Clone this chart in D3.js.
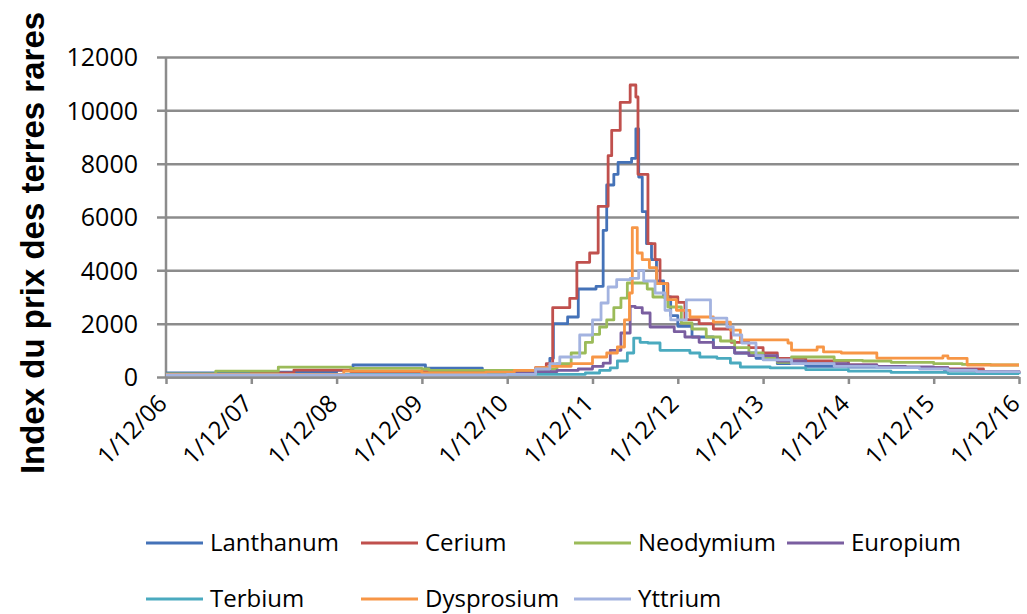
<!DOCTYPE html>
<html>
<head>
<meta charset="utf-8">
<script src="https://cdnjs.cloudflare.com/ajax/libs/d3/7.8.5/d3.min.js"></script>
<style>
  html, body { margin: 0; padding: 0; background: #fff; }
  svg { display: block; }
</style>
</head>
<body>
<svg id="chart" width="1027" height="614"></svg>
<script>
// ---- DATA (month index since 1/12/06, index value) ----
const tickLabels = ["1/12/06","1/12/07","1/12/08","1/12/09","1/12/10","1/12/11","1/12/12","1/12/13","1/12/14","1/12/15","1/12/16"];
const yTicks = [0, 2000, 4000, 6000, 8000, 10000, 12000];
const seriesNames = ["Lanthanum","Cerium","Neodymium","Europium","Terbium","Dysprosium","Yttrium"];

const lanthanum = [[0,150],[7,140],[13,180],[24,250],[26.3,450],[35.7,450],[36.5,330],[43.7,330],[44.5,220],[52,250],[54,700],[54.5,2000],[56.5,2250],[58,3300],[60.5,3400],[61.5,5500],[62,7200],[63,7600],[63.6,8050],[65.5,8200],[66.1,9300],[66.5,7500],[67,6200],[67.6,5000],[68.3,4400],[69,3600],[70,3000],[71,2300],[72,1900],[74,1500],[77,1100],[80,900],[83,700],[86,500],[90,400],[96,370],[102,350],[108,330],[109.5,250],[114,200],[118,150],[120,120]];
const cerium = [[0,100],[12,150],[18,260],[25,260],[26,200],[44,200],[50,220],[52,350],[53.5,500],[54.4,2600],[56.8,2950],[57.8,4300],[59.6,4650],[60.8,6400],[62.2,8300],[62.7,9250],[63.9,10300],[65.3,10950],[66.1,10500],[66.4,7600],[67.8,5000],[68.8,4400],[69.5,3500],[70.6,3000],[72,2800],[73,2150],[75,2000],[77,1800],[79.5,1300],[82,1100],[84,900],[86,700],[90,600],[96,450],[100,400],[104,350],[110,300],[115,200],[120,150]];
const neodymium = [[0,120],[7,220],[15.8,370],[26,320],[36,300],[37,250],[47,250],[53,300],[55,500],[57,900],[59,1300],[60,1600],[61,1875],[62,2140],[63,2600],[64,2960],[64.9,3525],[67.7,3300],[68.5,3000],[70.6,2625],[72.5,2025],[74,1800],[76,1500],[78,1350],[80,1100],[82,900],[84,700],[86,550],[88,750],[92,750],[94,620],[98,600],[102,550],[108,500],[112,470],[116,450],[120,450]];
const europium = [[0,100],[48,150],[52,200],[55,250],[58,300],[60,400],[61.5,520],[62.5,1000],[64,1650],[65.3,2650],[66,2600],[67,2400],[68.1,1875],[70.6,1875],[71.5,1700],[73,1500],[75,1300],[77,1100],[80,900],[82,800],[86,600],[90,500],[96,450],[100,400],[104,380],[108,350],[110,280],[114,200],[120,150]];
const terbium = [[0,100],[56,100],[59,150],[61,250],[62.5,340],[63.5,600],[64.9,900],[65.8,1460],[66.7,1300],[67.8,1275],[69.5,1000],[73.7,900],[75.1,750],[77.5,700],[79.4,525],[80.8,375],[85,340],[90,280],[96,220],[102,170],[110,130],[120,100]];
const dysprosium = [[0,100],[24,100],[25,220],[35.5,220],[36,150],[45,180],[49,250],[52,350],[54,400],[57,500],[60,750],[62,900],[63.5,1125],[64.5,2140],[65.2,3150],[65.6,5600],[66.3,4650],[67,4400],[68,4100],[69,3500],[70.5,2900],[71.8,2500],[73.7,2250],[77,2060],[79.4,1760],[80.8,1390],[87.5,1275],[88,1010],[91.6,1125],[92.5,940],[95,900],[100,710],[109.3,790],[110,700],[112.7,450],[120,450]];
const yttrium = [[0,80],[48,100],[52,300],[54,500],[55.4,750],[58.2,1575],[60,2140],[61.2,2775],[62.2,3375],[63.4,3650],[65.3,3700],[66.5,4000],[67.2,3600],[68.8,3150],[70.2,2500],[71,2140],[73.2,2890],[76.6,2210],[78.9,1875],[79.8,1575],[81,1275],[83,800],[84,640],[88,500],[94,400],[100,350],[106,300],[110,250],[114,200],[120,150]];

const seriesData = [lanthanum, cerium, neodymium, europium, terbium, dysprosium, yttrium];
const seriesColors = ["#4472b8","#c0504d","#9bbb59","#7a5ea0","#4aaabf","#f79646","#a3b3e0"];

// ---- LAYOUT ----
const svg = d3.select("#chart");
const x = d3.scaleLinear().domain([0, 120]).range([166, 1019]);
const y = d3.scaleLinear().domain([0, 12000]).range([377, 57]);
const font = "'Open Sans', sans-serif";
const gridColor = "#8c8c8c";

// gridlines + y labels
const yAxis = d3.axisLeft(y).tickValues(yTicks).tickFormat(d3.format("d"))
  .tickSize(-(x.range()[1] - x.range()[0])).tickSizeOuter(0).tickPadding(28);
const gy = svg.append("g").attr("transform", `translate(${x.range()[0]},0)`).call(yAxis);
gy.select(".domain").remove();
gy.selectAll(".tick line").attr("stroke", gridColor).attr("stroke-width", 2.5).attr("x1", -9);
gy.selectAll(".tick text").attr("font-family", font).attr("font-size", 25).attr("fill", "#000").attr("dy", "0.35em");

// left axis line
svg.append("line").attr("x1", x(0)).attr("x2", x(0)).attr("y1", y(12000)).attr("y2", y(0))
  .attr("stroke", gridColor).attr("stroke-width", 2.5);

// x axis ticks + labels
const xAxis = d3.axisBottom(x).tickValues(d3.range(0, 121, 12)).tickFormat((d, i) => tickLabels[i]).tickSize(7).tickSizeOuter(0);
const gx = svg.append("g").attr("transform", `translate(0,${y(0)})`).call(xAxis);
gx.select(".domain").attr("stroke", gridColor).attr("stroke-width", 2.5);
gx.selectAll(".tick line").attr("stroke", gridColor).attr("stroke-width", 2.5);
gx.selectAll(".tick text")
  .attr("font-family", font).attr("font-size", 24).attr("fill", "#000")
  .attr("text-anchor", "end")
  .attr("transform", "translate(-4,22) rotate(-45)")
  .attr("dy", "0.35em").attr("y", 0).attr("x", 0);

// lines
const line = d3.line().x(d => x(d[0])).y(d => y(d[1])).curve(d3.curveStepAfter);
svg.append("g").selectAll("path").data(seriesData).join("path")
  .attr("d", line).attr("fill", "none")
  .attr("stroke", (d, i) => seriesColors[i]).attr("stroke-width", 2.8)
  .attr("stroke-linejoin", "round");

// y title
svg.append("text")
  .attr("transform", "translate(44,243) rotate(-90)")
  .attr("text-anchor", "middle")
  .attr("font-family", "'Liberation Sans', Arial, sans-serif")
  .attr("font-weight", "bold").attr("font-size", 33).attr("fill", "#000")
  .text("Index du prix des terres rares");

// legend
const legendPos = [[146,543],[361,543],[574,543],[787,543],[146,599],[361,599],[574,599]];
const lg = svg.append("g").selectAll("g").data(seriesNames).join("g")
  .attr("transform", (d, i) => `translate(${legendPos[i][0]},${legendPos[i][1]})`);
lg.append("line").attr("x1", 0).attr("x2", 57).attr("y1", 0).attr("y2", 0)
  .attr("stroke", (d, i) => seriesColors[i]).attr("stroke-width", 3);
lg.append("text").attr("x", 64).attr("y", 0).attr("dy", "0.35em")
  .attr("font-family", font).attr("font-size", 24).attr("fill", "#000").text(d => d);
</script>
</body>
</html>
